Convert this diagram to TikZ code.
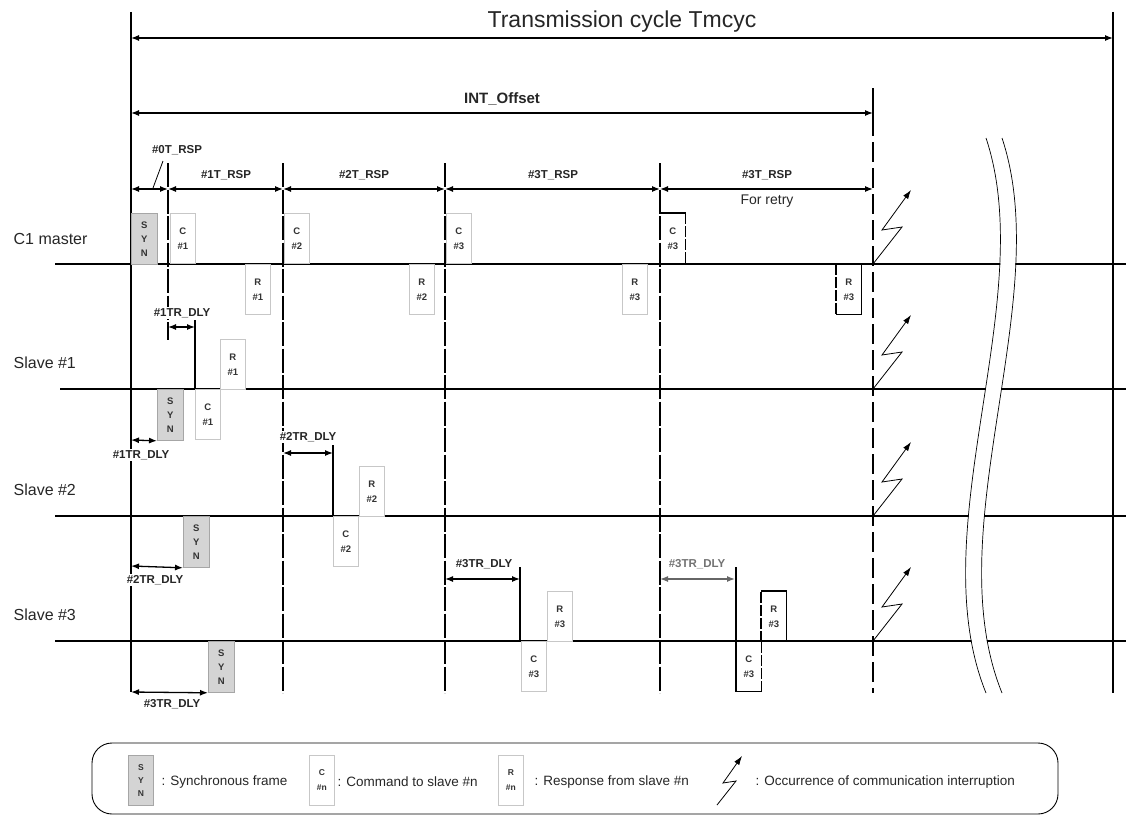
\documentclass[tikz,border=0pt]{standalone}
\usepackage{fontspec}
\setmainfont{Liberation Sans}
\usetikzlibrary{arrows.meta}

\begin{document}
\begin{tikzpicture}[x=1pt,y=-1pt,>={Latex[length=8pt,width=6pt]},line width=1.3pt,
    frame/.style={draw=black!22,fill=white,line width=0.8pt,minimum width=25pt,minimum height=50pt,
      inner sep=0pt,align=center,text=black!80,font=\fontsize{9.5}{15}\selectfont\bfseries},
    syn/.style={frame,draw=black!35,fill=black!17,minimum width=26pt,minimum height=51pt,
      font=\fontsize{9.5}{14}\selectfont\bfseries},
    bare/.style={frame,draw=none,fill=none},
    dim/.style={fill=white,inner sep=1pt,text=black!85,font=\fontsize{11.5}{13}\selectfont\bfseries},
    rowlbl/.style={anchor=west,inner sep=0pt,text=black!85,font=\fontsize{16}{18}\selectfont},
    legtxt/.style={anchor=west,inner sep=0pt,text=black!85,font=\fontsize{13.5}{16}\selectfont},
    seg/.style={dash pattern=on 24pt off 2.5pt},
    intl/.style={dash pattern=on 20pt off 6pt},
    rside/.style={dash pattern=on 11pt off 2pt},
    bolt/.style={->,line width=0.8pt,>={Latex[length=9pt,width=6pt]}}]
  \useasboundingbox (0,0) rectangle (1126,816);

  % time lines of the stations
  \foreach \y/\xs in {264/55,389/60,516/55,641/55}
    \draw (\xs,\y) -- (1126,\y);
  \node[rowlbl] (c1m) at (13,239) {C1 master};
  \node[rowlbl] (sl1) at (13,363) {Slave \#1};
  \node[rowlbl] (sl2) at (13,490) {Slave \#2};
  \node[rowlbl] (sl3) at (13,615) {Slave \#3};

  % cycle and offset
  \draw (131,12) -- (131,692);
  \draw (1113,12) -- (1113,693);
  \draw[<->] (131,38) -- (1113,38);
  \node[text=black!85,font=\fontsize{23}{26}\selectfont] (tcyc) at (622,22) {Transmission cycle Tmcyc};
  \draw (873,88) -- (873,116);
  \draw[intl] (873,116) -- (873,693);
  \draw[<->] (131,113) -- (873,113);
  \node[text=black!85,font=\fontsize{15}{17}\selectfont\bfseries] (ioff) at (502,99) {INT\_Offset};

  % response periods
  \draw[seg] (168,163) -- (168,340);
  \foreach \x in {283,445,660}
    \draw[seg] (\x,163) -- (\x,693);
  \draw[<->] (131,189) -- (168,189);
  \draw[<->] (168,189) -- (283,189);
  \draw[<->] (283,189) -- (445,189);
  \draw[<->] (445,189) -- (660,189);
  \draw[<->] (660,189) -- (873,189);
  \node[dim] (rsp0) at (177,150) {\#0T\_RSP};
  \draw[line width=0.8pt] (163,161) -- (153,188);
  \node[dim] (rsp1) at (226,175) {\#1T\_RSP};
  \node[dim] (rsp2) at (364,175) {\#2T\_RSP};
  \node[dim] (rsp3) at (553,175) {\#3T\_RSP};
  \node[dim] (rsp3r) at (767,175) {\#3T\_RSP};
  \node[text=black!85,font=\fontsize{14}{16}\selectfont] (retry) at (767,201) {For retry};

  % break of the time axis
  \draw[white,line width=15pt] (994,138) .. controls (1048,300) and (928,530) .. (994,693);
  \draw[line width=0.7pt] (986,138) .. controls (1040,300) and (920,530) .. (986,693);
  \draw[line width=0.7pt] (1002,138) .. controls (1056,300) and (936,530) .. (1002,693);

  % C1 master
  \node[syn,anchor=north west] (syn0) at (131,213) {S\\Y\\N};
  \node[frame,anchor=north west] (cm1) at (170,213) {C\\\#1};
  \node[frame,anchor=north west] (rm1) at (245,264) {R\\\#1};
  \node[frame,anchor=north west] (cm2) at (284,213) {C\\\#2};
  \node[frame,anchor=north west] (rm2) at (409,264) {R\\\#2};
  \node[frame,anchor=north west] (cm3) at (446,213) {C\\\#3};
  \node[frame,anchor=north west] (rm3) at (622,264) {R\\\#3};
  \node[bare,anchor=north west] (cm3r) at (660,213) {C\\\#3};
  \draw (cm3r.north west) -- (cm3r.north east);
  \draw[rside] (cm3r.north east) -- (cm3r.south east);
  \node[bare,anchor=north west] (rm3r) at (836,264) {R\\\#3};
  \draw[rside] (rm3r.north west) -- (rm3r.south west);
  \draw (rm3r.south west) -- (rm3r.south east) -- (rm3r.north east);

  % slave #1
  \draw (195,320) -- (195,389);
  \draw[<->] (168,327) -- (195,327);
  \node[dim] (dly1) at (182,313) {\#1TR\_DLY};
  \node[frame,anchor=north west] (rs1) at (220,339) {R\\\#1};
  \node[syn,anchor=north west] (syn1) at (157,389) {S\\Y\\N};
  \node[frame,anchor=north west] (cs1) at (195,389) {C\\\#1};
  \draw[<->] (131,440) -- (syn1.south west);
  \node[dim] (dly1b) at (141,455) {\#1TR\_DLY};

  % slave #2
  \draw (333,445) -- (333,516);
  \draw[<->] (283,453) -- (333,453);
  \node[dim] (dly2) at (308,437) {\#2TR\_DLY};
  \node[frame,anchor=north west] (rs2) at (359,466) {R\\\#2};
  \node[frame,anchor=north west] (cs2) at (333,516) {C\\\#2};
  \node[syn,anchor=north west] (syn2) at (183,516) {S\\Y\\N};
  \draw[<->] (131,566) -- (syn2.south west);
  \node[dim] (dly2b) at (155,580) {\#2TR\_DLY};

  % slave #3
  \draw (520,567) -- (520,641);
  \draw[<->] (445,579) -- (520,579);
  \node[dim] (dly3) at (484,564) {\#3TR\_DLY};
  \node[frame,anchor=north west] (rs3) at (547,591) {R\\\#3};
  \node[frame,anchor=north west] (cs3) at (521,641) {C\\\#3};
  \draw (736,567) -- (736,641);
  \draw[<->,black!60] (660,579) -- (735,579);
  \node[dim,text=black!55] (dly3r) at (697,564) {\#3TR\_DLY};
  \node[bare,anchor=north west] (rs3r) at (761,591) {R\\\#3};
  \draw[rside] (rs3r.south west) -- (rs3r.north west);
  \draw (rs3r.north west) -- (rs3r.north east) -- (rs3r.south east);
  \node[bare,anchor=north west] (cs3r) at (736,641) {C\\\#3};
  \draw (cs3r.north west) -- (cs3r.south west) -- (cs3r.south east);
  \draw[rside] (cs3r.south east) -- (cs3r.north east);
  \node[syn,anchor=north west] (syn3) at (208,641) {S\\Y\\N};
  \draw[<->] (131,692) -- (syn3.south west);
  \node[dim] (dly3b) at (172,704) {\#3TR\_DLY};

  % interruptions
  \foreach \y in {264,389,516,641}
    \draw[bolt] (873,\y) -- ++(29,-37) -- ++(-20,3) -- ++(29,-40);

  % legend
  \draw[line width=0.9pt,rounded corners=20pt] (92,743) rectangle (1058,814);
  \node[syn,anchor=north west,minimum width=25pt,minimum height=50pt,
    font=\fontsize{8.5}{13}\selectfont\bfseries] (lsyn) at (128,755) {S\\Y\\N};
  \node[legtxt] (lsynt) at (161,782) {: Synchronous frame};
  \node[frame,anchor=north west,font=\fontsize{8.5}{15}\selectfont\bfseries] (lc) at (309,755) {C\\\#n};
  \node[legtxt] (lct) at (337,782) {: Command to slave \#n};
  \node[frame,anchor=north west,font=\fontsize{8.5}{15}\selectfont\bfseries] (lr) at (498,755) {R\\\#n};
  \node[legtxt] (lrt) at (534,782) {: Response from slave \#n};
  \draw[bolt] (717,805) -- ++(19,-24) -- ++(-13,2) -- ++(19,-27);
  \node[legtxt] (lbt) at (755,782) {: Occurrence of communication interruption};
\end{tikzpicture}
\end{document}
